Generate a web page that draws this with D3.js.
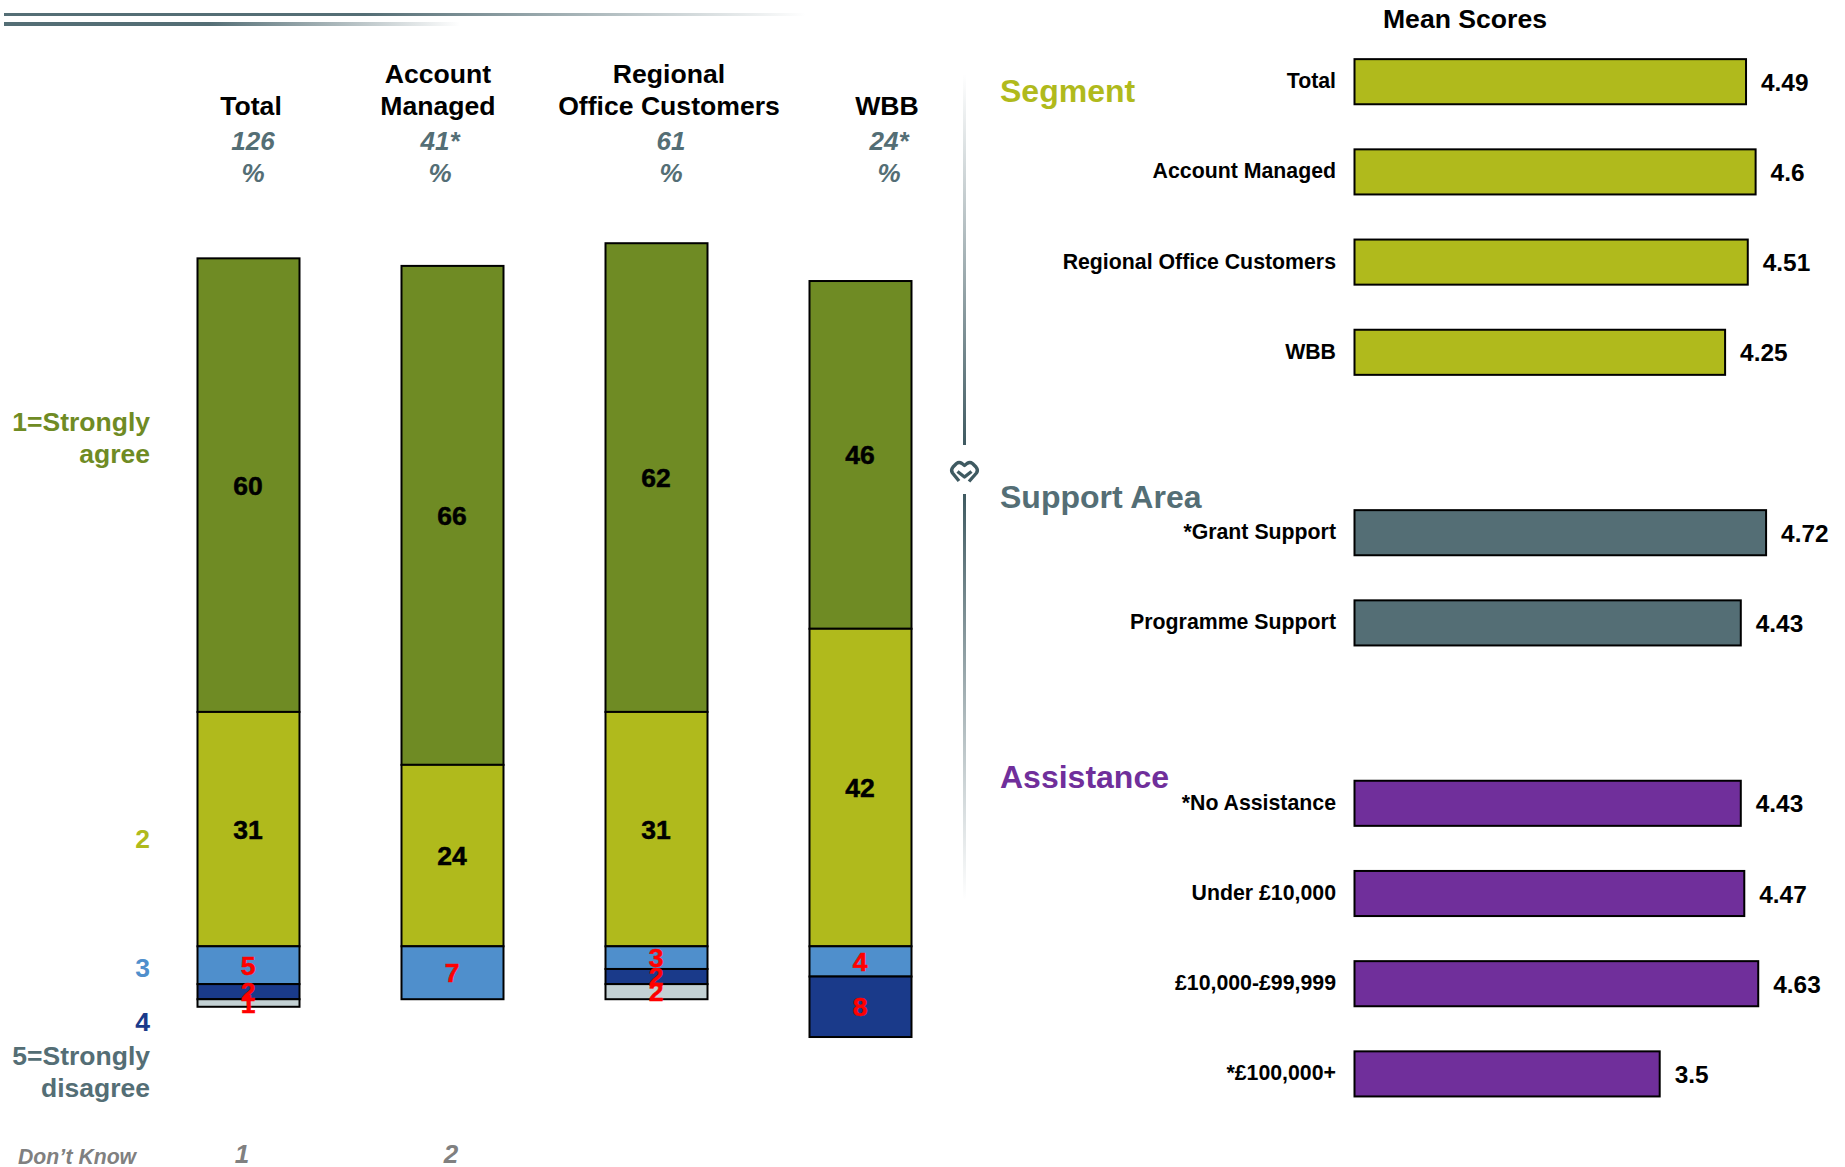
<!DOCTYPE html>
<html><head><meta charset="utf-8">
<script src="https://cdn.jsdelivr.net/npm/d3@7"></script>
<style>html,body{margin:0;padding:0;background:#fff;overflow:hidden}svg{display:block}text{font-family:"Liberation Sans",Arial,sans-serif;font-weight:bold}</style>
</head><body><svg id="c" width="1845" height="1167"></svg>
<script>
const segments = ["Total","Account Managed","Regional Office Customers","WBB"];
const headerLines = [["Total"],["Account","Managed"],["Regional","Office Customers"],["WBB"]];
const bases = ["126","41*","61","24*"];
const agree1 = [60,66,62,46];
const agree2 = [31,24,31,42];
const neutral3 = [5,7,3,4];
const disagree4 = [2,0,2,8];
const disagree5 = [1,0,2,0];
const dontKnow = ["1","2","",""];
const legendLabels = [["1=Strongly","agree"],["2"],["3"],["4"],["5=Strongly","disagree"]];
const meanCategories = ["Total","Account Managed","Regional Office Customers","WBB","gap1","*Grant Support","Programme Support","gap2","*No Assistance","Under £10,000","£10,000-£99,999","*£100,000+"];
const meanValues = [4.49,4.6,4.51,4.25,null,4.72,4.43,null,4.43,4.47,4.63,3.5];
const meanGroups = ["Segment","Segment","Segment","Segment","","Support Area","Support Area","","Assistance","Assistance","Assistance","Assistance"];
const groupColors = {"Segment":"#B0BA1C","Support Area":"#546E75","Assistance":"#702F9B"};

const svg = d3.select("#c");
const defs = svg.append("defs");
function grad(id,x2,y2,stops){const g=defs.append("linearGradient").attr("id",id).attr("gradientUnits","userSpaceOnUse").attr("x1",x2[0]).attr("y1",y2[0]).attr("x2",x2[1]).attr("y2",y2[1]);
 stops.forEach(s=>g.append("stop").attr("offset",s[0]).attr("stop-color",s[1]).attr("stop-opacity",s[2]));}
const dark="#546E75";
grad("g1",[4,806],[0,0],[[0,dark,1],[.45,dark,1],[1,dark,0]]);
grad("g2",[4,460],[0,0],[[0,dark,1],[.45,dark,1],[1,dark,0]]);
grad("g3",[0,0],[74,445],[[0,dark,0],[1,"#3f5a61",1]]);
grad("g4",[0,0],[494,900],[[0,"#3f5a61",1],[1,dark,0]]);
svg.append("rect").attr("x",4).attr("y",13).attr("width",802).attr("height",3).attr("fill","url(#g1)");
svg.append("rect").attr("x",4).attr("y",22).attr("width",456).attr("height",4).attr("fill","url(#g2)");
svg.append("rect").attr("x",963).attr("y",74).attr("width",3).attr("height",371).attr("fill","url(#g3)");
svg.append("rect").attr("x",963).attr("y",494).attr("width",3).attr("height",406).attr("fill","url(#g4)");
svg.append("path").attr("d","M959 481 L952.5 473 Q950.5 470 953 467 L956.5 463.5 Q959 461.5 962 463.5 L964.5 465.5 L967 463.5 Q970 461.5 972.5 463.5 L976 467 Q978.5 470 976.5 473 L969 481.5 M957.5 471.5 L964.5 477 L971.5 471.5")
 .attr("fill","none").attr("stroke","#3f5a61").attr("stroke-width",3.4).attr("stroke-linejoin","round");

// Left stacked bars
const barX = d3.scalePoint().domain(segments).range([197.5,809.5]);
const barW = 102;
const y = d3.scaleLinear().domain([0,100]).range([946.3,946.3-756]);
const rows = [
 {k:agree1,c:"#6F8B24",tc:"#000"},
 {k:agree2,c:"#B0BA1C",tc:"#000"},
 {k:neutral3,c:"#4F8FCC",tc:"#f00"},
 {k:disagree4,c:"#1A3A8A",tc:"#f00"},
 {k:disagree5,c:"#C3D1D4",tc:"#f00"}
];
const labels=[];
segments.forEach((s,i)=>{
 let top=agree2[i]+agree1[i];
 let neg=0;
 [0,1].forEach(r=>{const v=rows[r].k[i];labels.push({s,v,y:y(top-v/2),r,top:y(top),bot:y(top-v)});top-=v;});
 [2,3,4].forEach(r=>{const v=rows[r].k[i];if(!v)return;labels.push({s,v,y:y(neg-v/2),r,top:y(neg),bot:y(neg-v)});neg-=v;});
});
svg.selectAll("rect.seg").data(labels).join("rect").attr("class","seg")
 .attr("x",d=>barX(d.s)).attr("width",barW).attr("y",d=>d.top).attr("height",d=>d.bot-d.top)
 .attr("fill",d=>rows[d.r].c).attr("stroke","#000").attr("stroke-width",2);
svg.selectAll("text.seg").data(labels).join("text").attr("class","seg")
 .attr("x",d=>barX(d.s)+barW/2-.5).attr("y",d=>d.y+9.5).attr("text-anchor","middle")
 .attr("font-size",26.5).attr("fill",d=>rows[d.r].tc).attr("stroke",d=>rows[d.r].tc).attr("stroke-width",.5).text(d=>d.v);

// headers
const hdrX=[251,438,669,887], baseX=[253,440,671,889];
headerLines.forEach((ls,i)=>{
 ls.forEach((l,j)=>svg.append("text").attr("x",hdrX[i]).attr("y",115-(ls.length-1-j)*32).attr("text-anchor","middle").attr("font-size",26.6).attr("fill","#000").text(l));
 [bases[i],"%"].forEach((t,j)=>svg.append("text").attr("x",baseX[i]).attr("y",150+j*32).attr("text-anchor","middle").attr("font-size",26).attr("font-style","italic").attr("fill",dark).text(t));
});
// legend
const legY=[[431],[848],[977],[1031],[1065]];
const legC=["#6F8B24","#B0BA1C","#4F8FCC","#1A3A8A",dark];
legendLabels.forEach((ls,i)=>ls.forEach((l,j)=>svg.append("text").attr("x",150).attr("y",legY[i][0]+j*32).attr("text-anchor","end").attr("font-size",26.5).attr("fill",legC[i]).text(l)));
svg.append("text").attr("x",18).attr("y",1164).attr("font-size",21.2).attr("font-style","italic").attr("fill","#808080").text("Don\u2019t Know");
dontKnow.forEach((t,i)=>{if(t)svg.append("text").attr("x",[242,451][i]).attr("y",1163).attr("text-anchor","middle").attr("font-size",26).attr("font-style","italic").attr("fill","#808080").text(t)});

// right
svg.append("text").attr("x",1465).attr("y",28).attr("text-anchor","middle").attr("font-size",26.6).attr("fill","#000").text("Mean Scores");
const mx=d3.scaleLinear().domain([0,5]).range([1354.5,1790.5]);
const my=d3.scaleBand().domain(meanCategories).range([58.6-22,58.6-22+90.2*12]).paddingInner(.5).paddingOuter(.25);
const meanData=meanCategories.map((c,i)=>({c,v:meanValues[i],g:meanGroups[i],i})).filter(d=>d.v!==null);
svg.selectAll("rect.m").data(meanData).join("rect").attr("class","m")
 .attr("x",mx(0)).attr("width",d=>mx(d.v)-mx(0)).attr("y",d=>my(d.c)).attr("height",my.bandwidth())
 .attr("fill",d=>groupColors[d.g]).attr("stroke","#000").attr("stroke-width",2);
svg.selectAll("text.ml").data(meanData).join("text").attr("class","ml")
 .attr("x",1336).attr("y",d=>my(d.c)+my.bandwidth()/2+6.5).attr("text-anchor","end").attr("font-size",21.3).attr("fill","#000").text(d=>d.c);
svg.selectAll("text.mv").data(meanData).join("text").attr("class","mv")
 .attr("x",d=>mx(d.v)+15).attr("y",d=>my(d.c)+my.bandwidth()/2+9).attr("font-size",24.4).attr("fill","#000").text(d=>d.v);
[["Segment",1000,102],["Support Area",1000,508],["Assistance",1000,788]].forEach(a=>svg.append("text").attr("x",a[1]).attr("y",a[2]).attr("font-size",32).attr("fill",groupColors[a[0]]).text(a[0]));
</script></body></html>
